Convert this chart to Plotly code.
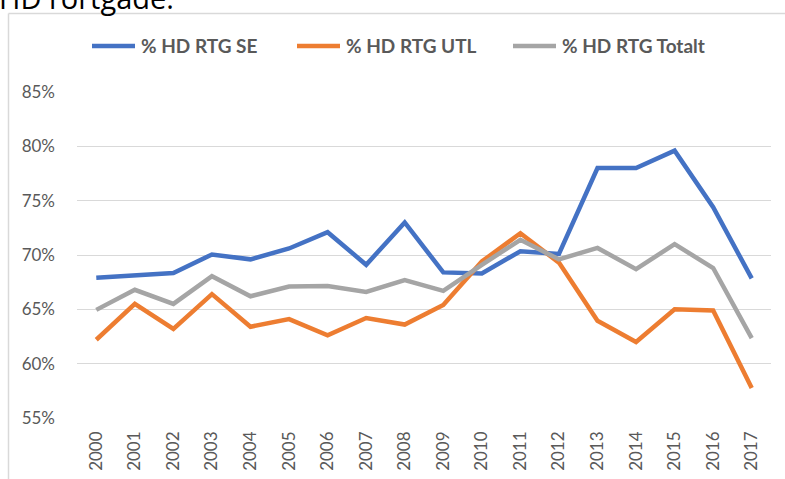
import plotly.graph_objects as go

years = ["2000", "2001", "2002", "2003", "2004", "2005", "2006", "2007", "2008",
         "2009", "2010", "2011", "2012", "2013", "2014", "2015", "2016", "2017"]
rtg_se = [67.9, 68.1, 68.35, 70.05, 69.6, 70.6, 72.1, 69.1, 73.0,
          68.4, 68.3, 70.35, 70.1, 78.0, 78.0, 79.6, 74.4, 67.85]
rtg_utl = [62.2, 65.5, 63.2, 66.4, 63.4, 64.1, 62.6, 64.2, 63.6,
           65.4, 69.4, 72.0, 69.3, 63.95, 62.0, 65.0, 64.9, 57.75]
rtg_tot = [64.95, 66.8, 65.5, 68.05, 66.2, 67.1, 67.15, 66.6, 67.7,
           66.7, 69.1, 71.4, 69.6, 70.65, 68.7, 71.0, 68.8, 62.35]
series_names = ["% HD RTG SE", "% HD RTG UTL", "% HD RTG Totalt"]
y_ticks = [55, 60, 65, 70, 75, 80, 85]
y_tick_labels = ["55%", "60%", "65%", "70%", "75%", "80%", "85%"]

colors = ["#4472C4", "#ED7D31", "#A5A5A5"]

W, H = 785, 479
L, R, T, B = 77, 14, 92, 61
pw, ph = W - L - R, H - T - B

def px_x(p):
    return (p - L) / pw

def px_y(p):
    return (H - B - p) / ph

fig = go.Figure()
for name, vals, c in zip(series_names, [rtg_se, rtg_utl, rtg_tot], colors):
    fig.add_trace(go.Scatter(x=years, y=vals, name=name, mode="lines",
                             line=dict(color=c, width=4.5), showlegend=False))

# manual legend (Excel-style, single row)
leg_x = [92, 297, 513]
leg_y = 46
shapes = [
    dict(type="line", xref="paper", yref="paper", x0=px_x(8.5), x1=px_x(800),
         y0=px_y(13.5), y1=px_y(13.5), line=dict(color="#D9D9D9", width=1.5)),
    dict(type="line", xref="paper", yref="paper", x0=px_x(8.5), x1=px_x(8.5),
         y0=px_y(13.5), y1=px_y(500), line=dict(color="#D9D9D9", width=1.5)),
]
annotations = [
    dict(text="HD rortgade.", xref="paper", yref="paper", x=px_x(-3), y=px_y(19),
         xanchor="left", yanchor="bottom", showarrow=False,
         font=dict(size=29, color="#000000", family="'Open Sans', sans-serif")),
]
for lx, name, c in zip(leg_x, series_names, colors):
    shapes.append(dict(type="line", xref="paper", yref="paper",
                       x0=px_x(lx), x1=px_x(lx + 43), y0=px_y(leg_y), y1=px_y(leg_y),
                       line=dict(color=c, width=4.5)))
    annotations.append(dict(text="<b>" + name + "</b>", xref="paper", yref="paper",
                            x=px_x(lx + 47), y=px_y(leg_y), xanchor="left", yanchor="middle",
                            showarrow=False,
                            font=dict(size=19, color="#595959", family="Lato, sans-serif")))

fig.update_layout(
    width=W, height=H,
    margin=dict(l=L, r=R, t=T, b=B, autoexpand=False),
    paper_bgcolor="white", plot_bgcolor="white",
    font=dict(family="Lato, 'Open Sans', sans-serif", color="#595959"),
    showlegend=False,
    xaxis=dict(type="category", range=[-0.5, 17.5], showgrid=False, zeroline=False,
               tickangle=-90, ticks="", tickfont=dict(size=17, color="#595959"),
               showline=False, ticklabelstandoff=9),
    yaxis=dict(range=[55, 85], tickvals=y_ticks, ticktext=y_tick_labels,
               showgrid=True, gridcolor="#D9D9D9", gridwidth=1.3, zeroline=False,
               tickfont=dict(size=17, color="#595959"), ticks="", ticklabelstandoff=21),
    shapes=shapes,
    annotations=annotations,
)

fig.write_html("out.html", config={"displayModeBar": False},
               post_script="document.body.style.margin='0';document.body.style.padding='0';")
